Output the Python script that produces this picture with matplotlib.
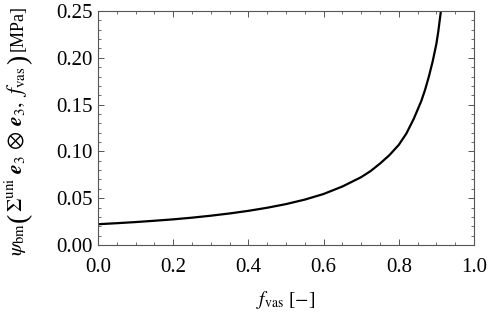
import matplotlib
matplotlib.use("Agg")
import matplotlib.pyplot as plt
from matplotlib.ticker import MultipleLocator, FormatStrFormatter
from matplotlib.transforms import IdentityTransform

plt.rcParams["font.family"] = "Liberation Serif"
plt.rcParams["mathtext.fontset"] = "stix"

# values
f_vas = [0.0, 0.05, 0.1, 0.15, 0.2, 0.25, 0.3, 0.35, 0.4, 0.45, 0.5, 0.55,
         0.6, 0.65, 0.7, 0.725, 0.75, 0.775, 0.8, 0.82, 0.84, 0.86, 0.87,
         0.88, 0.89, 0.9, 0.905, 0.912]
psi_bm = [0.0222, 0.0233, 0.0245, 0.0259, 0.0274, 0.0292, 0.0313, 0.0337,
          0.0365, 0.0398, 0.0437, 0.0485, 0.0545, 0.0625, 0.0725, 0.079,
          0.087, 0.096, 0.107, 0.119, 0.135, 0.154, 0.166, 0.180, 0.196,
          0.215, 0.228, 0.25]

W, H = 488, 315
fig = plt.figure(figsize=(W / 100, H / 100), dpi=100)
ax = fig.add_axes([98 / W, 1 - 245 / H, 376 / W, 234 / H])

ax.plot(f_vas, psi_bm, color="black", lw=1.6, solid_joinstyle="round")

ax.set_xlim(0, 1)
ax.set_ylim(0, 0.25)
ax.xaxis.set_major_locator(MultipleLocator(0.2))
ax.xaxis.set_minor_locator(MultipleLocator(0.05))
ax.yaxis.set_major_locator(MultipleLocator(0.05))
ax.yaxis.set_minor_locator(MultipleLocator(0.01))
ax.xaxis.set_major_formatter(FormatStrFormatter("%.1f"))
ax.yaxis.set_major_formatter(FormatStrFormatter("%.2f"))

frame = "#555555"
for s in ax.spines.values():
    s.set_color(frame)
    s.set_linewidth(0.8)
ax.tick_params(which="both", direction="in", top=True, right=True,
               color=frame, labelsize=15, labelcolor="black")
ax.tick_params(which="major", length=4, width=0.7)
ax.tick_params(which="minor", length=2, width=0.6)
ax.tick_params(axis="x", which="major", pad=9)
ax.tick_params(axis="y", which="major", pad=4)

ax.set_xlabel(r"$f_{\mathrm{vas}}$ [$-$]", fontsize=14, labelpad=9)

# y label built from pieces so the parentheses can be tall
# (text, size, baseline x, gap after) -- stacked bottom to top
renderer = fig.canvas.get_renderer()
pieces = [
    (r"$\psi_{\mathrm{bm}}$", 15, 22.5, 1),
    ("(", 20, 26, 1),
    (r"$\Sigma^{\mathrm{uni}}\;\mathbfit{e}_3\,\otimes\,\mathbfit{e}_3,\ f_{\mathrm{vas}}$", 15.5, 22.5, 2),
    (")", 20, 26, None),
    ("[MPa]", 13, 22.5, 0),
]
y_bottom, y_top = H - 256, H - 5
texts = []
for txt, size, xb, gap in pieces:
    t = fig.text(xb, 0, txt, fontsize=size, rotation=90, rotation_mode="anchor",
                 ha="left", va="baseline", transform=IdentityTransform())
    texts.append((t, t.get_window_extent(renderer).height, gap))
used = sum(h for _, h, _ in texts) + sum(g for _, _, g in texts if g)
spare = max((y_top - y_bottom) - used, 4)
y = y_bottom
for t, h, gap in texts:
    t.set_y(y)
    y += h + (spare if gap is None else gap)

fig.savefig("out.png", dpi=100)
